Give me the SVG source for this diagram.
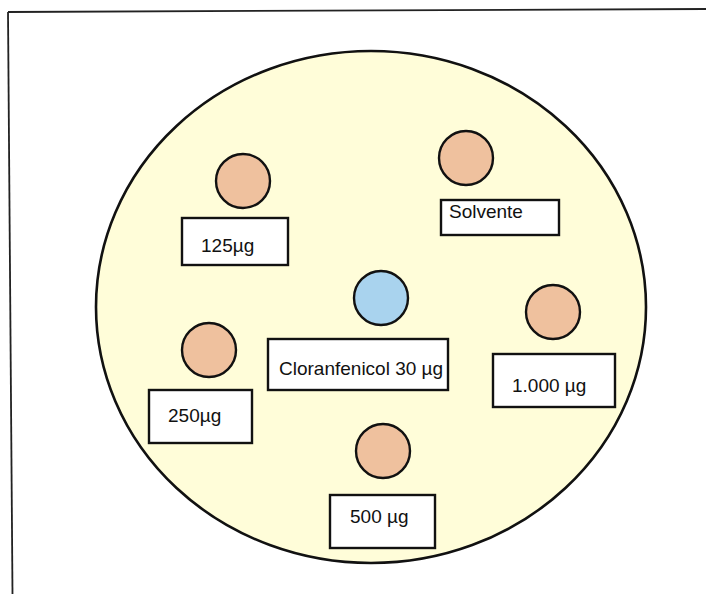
<svg xmlns="http://www.w3.org/2000/svg" width="706" height="594" viewBox="0 0 706 594">
  <style>
    .plate { fill: #fffdd9; stroke: #111; stroke-width: 2.6; }
    .disc { stroke: #111; stroke-width: 2.4; }
    .test { fill: #efc19e; }
    .ctrl { fill: #a9d3ee; }
    .label { fill: #ffffff; stroke: #111; stroke-width: 2.4; }
    .txt { font-family: "Liberation Sans", Arial, sans-serif; font-size: 19px; fill: #111; }
    .frame { stroke: #222; stroke-width: 1.8; fill: none; }
  </style>

  <rect x="0" y="0" width="706" height="594" fill="#ffffff"/>

  <!-- outer frame -->
  <g id="frame">
    <line class="frame" x1="8" y1="12" x2="706" y2="9"/>
    <line class="frame" x1="8" y1="12" x2="12.5" y2="594"/>
  </g>

  <!-- agar plate -->
  <g id="plate">
    <ellipse class="plate" cx="371" cy="307" rx="275" ry="256"/>
  </g>

  <g id="connectors"></g>

  <g id="disc-125">
    <circle class="disc test" cx="243" cy="181" r="27"/>
    <rect class="label" x="182" y="218" width="106" height="47"/>
    <text class="txt" x="201" y="252">125µg</text>
  </g>

  <g id="disc-solvente">
    <circle class="disc test" cx="466" cy="158" r="27"/>
    <rect class="label" x="441" y="200" width="118" height="35"/>
    <text class="txt" x="449" y="218">Solvente</text>
  </g>

  <g id="disc-cloranfenicol">
    <circle class="disc ctrl" cx="381" cy="298" r="27"/>
    <rect class="label" x="268" y="339" width="180" height="51"/>
    <text class="txt" x="279" y="375">Cloranfenicol 30 µg</text>
  </g>

  <g id="disc-250">
    <circle class="disc test" cx="209" cy="350" r="27"/>
    <rect class="label" x="149" y="390" width="103" height="53"/>
    <text class="txt" x="168" y="422">250µg</text>
  </g>

  <g id="disc-1000">
    <circle class="disc test" cx="553" cy="312" r="27"/>
    <rect class="label" x="493" y="354" width="122" height="53"/>
    <text class="txt" x="512" y="392">1.000 µg</text>
  </g>

  <g id="disc-500">
    <circle class="disc test" cx="383" cy="451" r="27"/>
    <rect class="label" x="330" y="495" width="105" height="53"/>
    <text class="txt" x="350" y="523">500 µg</text>
  </g>
</svg>
